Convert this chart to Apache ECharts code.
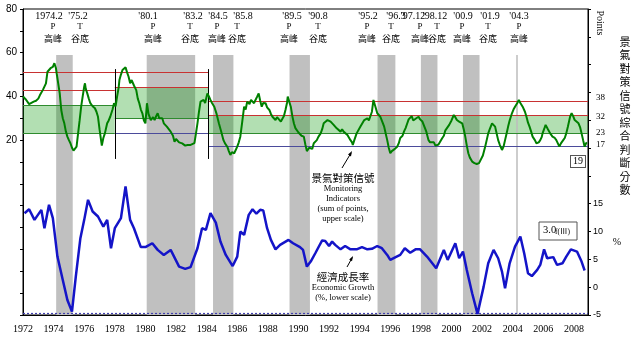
<!DOCTYPE html>
<html><head><meta charset="utf-8">
<script src="https://cdn.jsdelivr.net/npm/echarts@6/dist/echarts.min.js"></script>
<style>html,body{margin:0;padding:0;background:#fff}#c{width:640px;height:346px}</style>
</head><body><div id="c"></div><script>
// ---- DATA ----
const monYears = [1972.0,1972.2,1972.4,1972.5,1972.7,1972.85,1973.0,1973.1,1973.2,1973.3,1973.4,1973.5,1973.6,1973.7,1973.8,1973.95,1974.05,1974.15,1974.2,1974.3,1974.4,1974.5,1974.6,1974.7,1974.8,1974.9,1975.0,1975.1,1975.2,1975.3,1975.4,1975.5,1975.6,1975.7,1975.8,1975.9,1976.0,1976.05,1976.1,1976.2,1976.3,1976.4,1976.55,1976.7,1976.8,1976.9,1977.0,1977.1,1977.15,1977.25,1977.35,1977.5,1977.6,1977.7,1977.85,1977.95,1978.05,1978.15,1978.25,1978.3,1978.4,1978.5,1978.6,1978.7,1978.8,1978.9,1979.0,1979.1,1979.25,1979.4,1979.5,1979.6,1979.7,1979.8,1979.9,1980.0,1980.1,1980.2,1980.35,1980.5,1980.6,1980.7,1980.8,1980.9,1981.0,1981.1,1981.2,1981.3,1981.4,1981.5,1981.65,1981.8,1981.9,1982.0,1982.1,1982.2,1982.3,1982.4,1982.5,1982.6,1982.75,1982.85,1982.95,1983.05,1983.2,1983.3,1983.4,1983.5,1983.6,1983.7,1983.8,1983.9,1984.0,1984.05,1984.15,1984.25,1984.35,1984.5,1984.65,1984.8,1984.95,1985.1,1985.2,1985.35,1985.45,1985.55,1985.65,1985.8,1985.9,1986.0,1986.1,1986.2,1986.3,1986.45,1986.55,1986.65,1986.8,1986.9,1987.0,1987.1,1987.2,1987.3,1987.4,1987.5,1987.6,1987.7,1987.85,1987.95,1988.1,1988.2,1988.3,1988.4,1988.5,1988.6,1988.7,1988.85,1988.95,1989.05,1989.15,1989.25,1989.3,1989.4,1989.5,1989.6,1989.7,1989.8,1989.9,1990.0,1990.1,1990.2,1990.35,1990.45,1990.55,1990.6,1990.7,1990.8,1990.9,1991.0,1991.1,1991.2,1991.3,1991.45,1991.55,1991.65,1991.75,1991.9,1992.0,1992.1,1992.2,1992.3,1992.4,1992.5,1992.6,1992.75,1992.85,1992.95,1993.05,1993.2,1993.3,1993.4,1993.5,1993.55,1993.65,1993.8,1993.9,1994.05,1994.15,1994.3,1994.4,1994.5,1994.6,1994.7,1994.8,1994.9,1995.0,1995.15,1995.25,1995.35,1995.5,1995.6,1995.7,1995.8,1995.9,1996.0,1996.1,1996.2,1996.3,1996.45,1996.55,1996.65,1996.8,1996.9,1997.0,1997.1,1997.2,1997.3,1997.4,1997.5,1997.6,1997.7,1997.85,1997.95,1998.1,1998.2,1998.35,1998.5,1998.6,1998.7,1998.85,1998.95,1999.05,1999.15,1999.25,1999.4,1999.5,1999.6,1999.7,1999.85,2000.0,2000.15,2000.25,2000.35,2000.5,2000.6,2000.7,2000.8,2000.9,2001.0,2001.1,2001.2,2001.35,2001.5,2001.65,2001.8,2001.9,2002.05,2002.2,2002.3,2002.4,2002.5,2002.65,2002.75,2002.85,2002.95,2003.05,2003.15,2003.3,2003.4,2003.5,2003.6,2003.7,2003.8,2003.95,2004.05,2004.15,2004.3,2004.4,2004.5,2004.65,2004.8,2004.9,2005.0,2005.1,2005.2,2005.3,2005.45,2005.55,2005.7,2005.8,2005.9,2005.95,2006.05,2006.15,2006.3,2006.45,2006.55,2006.6,2006.75,2006.85,2006.95,2007.05,2007.15,2007.3,2007.4,2007.5,2007.6,2007.75,2007.85,2007.95,2008.05,2008.15,2008.3,2008.4,2008.5,2008.6,2008.7,2008.8,2008.85];
const monValues = [40,38.5,36.5,36,37.6,38,39,40.5,41.4,43,44.5,46,51.3,52,52.9,53.5,55.2,53,50.6,46,41.4,33.8,30,27.7,24,21.6,20,18.6,16.5,15.2,15.8,17,23.1,29,35.3,40,44.5,46,43.5,41.4,39,36.9,35.5,34.6,33,30.7,25,20,17.5,21,23.1,27.7,29,30.7,34,36.9,35.5,40,44,47.5,50,52.1,53,53.3,51,49,46,47.5,45,42.9,39,36.9,34,32.3,29,27.7,36.9,32,29.2,30.5,29.2,31,32.3,30,29.2,30,27.7,28,26.2,27,23.9,22,19.3,20.5,20,19,19.3,18.5,18.6,17.5,17.8,17,17.8,17,18.6,23,27.7,33,37.6,38,38.4,37,40,41.4,40,38.4,37,35.3,32,27.7,24,20,18.5,17,15,13.2,14.5,14,15.5,17,19,21.6,27,35.3,34,37.6,36.5,38.4,37.5,36.9,38.5,39.9,41.4,38,35.3,37,36.9,35,33.8,32,30.7,31.5,29.2,30.5,30,28.5,29.2,31,33.8,37,39.9,37.5,35.3,31,27.7,25.5,24.7,23.5,23.1,22,21.6,18,15,14.7,16.5,17,16,18.6,18,20,21.5,23.1,25,27.7,27,29.2,29.5,28.5,28,27,26.5,25.4,26,23.9,25,23.9,24.5,22.4,21.5,20,19,17.8,20,23.1,22.5,26.2,27,29.2,28.5,30,29,29.2,33,38.4,36,32.3,31.5,30.7,28,26.2,23,20,16.5,14,15,15.5,16,17,18.5,21,22,24,25.5,27.5,29.5,30,31,29,29.2,30,30.7,29.5,28.5,27.7,24,20,19,18.6,19,17.5,17,18,18.6,21,22,24.5,24.7,27,29,31.5,30.5,29.2,28.5,28,27.7,25,21.6,17.5,14,12,10.2,9.5,9.1,9.5,10.2,13,17,20,23.1,25,27.7,27,26.2,23,20,18,15.5,17,20,23,26.2,29,32.3,34,35.3,37,38.4,37,35.3,33,30.7,28,26.2,24,21.6,20,18.6,19,20,21.5,23.1,25,27,25,23.1,22.5,21.6,21,20,18.5,17,18.5,20,21,23.1,26,30.7,32.3,31,29.2,29.5,27.7,26,23.1,20,17,18.6,19];
const growthYears = [1972.1,1972.4,1972.75,1973.2,1973.4,1973.7,1973.95,1974.25,1974.6,1974.9,1975.2,1975.45,1975.75,1976.0,1976.25,1976.55,1976.9,1977.25,1977.5,1977.75,1978.0,1978.4,1978.7,1979.0,1979.25,1979.7,1980.0,1980.45,1980.8,1981.2,1981.65,1982.2,1982.6,1982.95,1983.4,1983.7,1983.95,1984.25,1984.6,1984.9,1985.25,1985.7,1986.0,1986.2,1986.45,1986.75,1987.0,1987.25,1987.5,1987.7,1987.95,1988.2,1988.5,1988.8,1989.35,1989.65,1990.1,1990.3,1990.55,1990.8,1991.1,1991.35,1991.55,1991.75,1992.0,1992.2,1992.4,1992.75,1993.05,1993.4,1993.8,1994.15,1994.5,1994.8,1995.15,1995.45,1995.8,1996.0,1996.35,1996.65,1996.95,1997.3,1997.65,1997.95,1998.4,1999.0,1999.5,1999.75,2000.25,2000.5,2000.75,2001.0,2001.35,2001.7,2002.1,2002.4,2002.75,2003.05,2003.3,2003.5,2003.8,2004.15,2004.5,2004.75,2005.0,2005.25,2005.6,2005.8,2006.05,2006.25,2006.65,2006.9,2007.25,2007.5,2007.8,2008.2,2008.5,2008.7];
const growthValues = [13.3,14,12.1,13.9,10.6,14.8,12.4,5.5,1.3,-2.3,-4.4,1.9,8.8,12.1,15.7,13.6,12.7,10.9,12.1,7,10.6,12.4,18.1,12.1,10.6,7.2,7.2,7.9,6.7,5.8,6.7,3.7,3.3,3.6,7,10.6,10.3,13.3,11.6,8.2,5.8,3.8,5.5,10,9.4,13,14,13.2,13.9,13.8,10.6,8.5,6.8,7.6,8.5,7.9,7.2,6.7,3.7,4.6,6.1,7.4,8.4,8.3,7.4,8.2,7.6,6.8,7.4,6.8,6.8,7.2,6.8,6.9,7.4,7,5.8,4.9,5.4,5.8,7,6.2,6.8,6.8,5.5,3.4,6.7,4.9,7.9,5.2,6.4,3.1,-1.1,-4.8,0.1,4.3,6.7,5.2,2.8,-0.2,4.3,7.3,9.1,6.1,2.5,2,3.1,4,6.8,5.2,5.4,4,4.3,5.5,6.8,6.4,4.6,3.0];
// business-cycle turning points
const cycleLabels = ["1974.2","'75.2","'80.1","'83.2","'84.5","'85.8","'89.5","'90.8","'95.2","'96.3","'97.12","'98.12","'00.9","'01.9","'04.3"];
const cycleTypes  = ["P","T","P","T","P","T","P","T","P","T","P","T","P","T","P"];
const cycleYears  = [1974,1975,1980,1983,1984,1985,1989,1990,1995,1996,1997,1998,2000,2001,2004];
const cycleMonths = [2,2,1,2,5,8,5,8,2,3,12,12,9,9,3];
const typeNames = {P:"高峰", T:"谷底"};
// signal thresholds (points): [fromYear, toYear, value]
const thresholdSegs = [[1972,1984.09,51],[1972,1978,43],[1978,1984.09,44],[1972,1978,36],[1978,1984.09,30],[1972,1978,23],[1978,1984.09,23],[1984.09,2008.92,38],[1984.09,2008.92,31.5],[1984.09,2008.92,23],[1984.09,2008.92,17]];
const thresholdKinds = ["r","r","r","g","g","g","b","r","r","g","b"];
const greenBands = [[1972,1978,23,36],[1978,1984.09,30,44],[1984.09,2008.92,23,31.5]];
const regimeBreaks = [1978,1984.09];
const thresholdTicks = ["38","32","23","17"];
const lastMon = "19";
const lastGrowth = "3.0";
const lastGrowthNote = "f(Ⅲ)";
const rightTitle = "景氣對策信號綜合判斷分數";

// ---- CHART ----
const chart = echarts.init(document.getElementById('c'), null, {renderer:'canvas'});
const X0 = 1972, X1 = 2008.92;
const toDec = (y,m)=> y + m/12;
const recessions = [];
for (let i=0;i<cycleTypes.length-1;i++){
  if (cycleTypes[i]==='P' && cycleTypes[i+1]==='T'){
    recessions.push([toDec(cycleYears[i],cycleMonths[i]), toDec(cycleYears[i+1],cycleMonths[i+1]+1)]);
  }
}
const lastPeak = cycleYears[14] + (cycleMonths[14]+0.5)/12;
const kindColor = {r:'#c83232', g:'#2e8b2e', b:'#4b4b9b'};

const serif = '"Liberation Serif","Noto Sans CJK TC",serif';
const cjk = '"Noto Sans CJK TC",sans-serif';

const graphics = [];
const dateX = [49,78,148,193,218,243,292,318,368,396,413,435,463,490,519];
const nameX = [53,80,153,190,217,237,289,318,367,391,420,437,462,488,519];
cycleLabels.forEach((t,i)=>{
  graphics.push({type:'text', style:{text:t, x:dateX[i], y:16, font:'10px '+serif, fill:'#000', textAlign:'center', textVerticalAlign:'middle'}});
  graphics.push({type:'text', style:{text:cycleTypes[i], x:nameX[i], y:27, font:'9px '+serif, fill:'#000', textAlign:'center', textVerticalAlign:'middle'}});
  graphics.push({type:'text', style:{text:typeNames[cycleTypes[i]], x:nameX[i], y:39, font:'9px '+cjk, fill:'#000', textAlign:'center', textVerticalAlign:'middle'}});
});
const thrY = [98,117,133,145];
thresholdTicks.forEach((t,i)=>{
  graphics.push({type:'text', style:{text:t, x:596, y:thrY[i], font:'9px '+serif, fill:'#000', textAlign:'left', textVerticalAlign:'middle'}});
});
graphics.push({type:'text', style:{text:rightTitle.split('').join('\n'), x:625, y:35, font:'11px '+cjk, lineHeight:13.5, fill:'#000', textAlign:'center', textVerticalAlign:'top'}});
graphics.push({type:'text', rotation:-Math.PI/2, x:600, y:23, style:{text:'Points', x:0, y:0, font:'10px '+serif, fill:'#000', textAlign:'center', textVerticalAlign:'middle'}});
graphics.push({type:'text', style:{text:'%', x:617, y:242, font:'10px '+serif, fill:'#000', textAlign:'center', textVerticalAlign:'middle'}});
const annoA = ['景氣對策信號','Monitoring','Indicators','(sum of points,','upper scale)'];
const annoAY = [178,189,199,209,219];
annoA.forEach((t,i)=>graphics.push({type:'text', style:{text:t, x:343, y:annoAY[i], font:(i===0?'10.5px '+cjk:'8.5px '+serif), fill:'#000', textAlign:'center', textVerticalAlign:'middle'}}));
const annoB = ['經濟成長率','Economic Growth','(%, lower scale)'];
const annoBY = [277,288,298];
annoB.forEach((t,i)=>graphics.push({type:'text', style:{text:t, x:343, y:annoBY[i], font:(i===0?'10.5px '+cjk:'8.5px '+serif), fill:'#000', textAlign:'center', textVerticalAlign:'middle'}}));
graphics.push({type:'line', shape:{x1:342,y1:168,x2:351,y2:153}, style:{stroke:'#000', lineWidth:1}});
graphics.push({type:'polygon', shape:{points:[[352,151],[351,156.5],[348,154.6]]}, style:{fill:'#000'}});
graphics.push({type:'line', shape:{x1:347,y1:267,x2:352.3,y2:257.5}, style:{stroke:'#000', lineWidth:1}});
graphics.push({type:'polygon', shape:{points:[[353,256],[352,261.3],[349.2,259.6]]}, style:{fill:'#000'}});
graphics.push({type:'text', style:{text:lastMon, x:578, y:161.5, font:'10px '+serif, fill:'#000', textAlign:'center', textVerticalAlign:'middle', backgroundColor:'#fff', borderColor:'#555', borderWidth:1, padding:[1,2,0,2]}});
graphics.push({type:'rect', shape:{x:539, y:222, width:38, height:18}, style:{fill:'#fff', stroke:'#555', lineWidth:1}});
graphics.push({type:'text', style:{text:lastGrowth, x:543, y:230, font:'10.5px '+serif, fill:'#000', textAlign:'left', textVerticalAlign:'middle'}});
graphics.push({type:'text', style:{text:lastGrowthNote, x:555, y:232.5, font:'7.5px '+serif, fill:'#000', textAlign:'left', textVerticalAlign:'middle'}});

const seg = (x0,x1,v,color)=>[{coord:[x0,v], lineStyle:{color:color,width:1,type:'solid'}},{coord:[x1,v]}];

const option = {
  animation:false,
  backgroundColor:'#fff',
  grid:{left:23, right:52, top:9, bottom:31, show:true, borderColor:'#000', borderWidth:1, backgroundColor:'transparent'},
  xAxis:{type:'value', min:X0, max:X1, interval:2,
    axisLine:{show:true, onZero:false, lineStyle:{color:'#000', width:1}}, axisTick:{show:false},
    axisLabel:{formatter:v=> (Math.abs(v-Math.round(v))<1e-6 && Math.round(v)%2===0)? String(Math.round(v)):'', showMaxLabel:false, fontFamily:'Liberation Serif', fontSize:10, color:'#000', margin:9},
    splitLine:{show:false}},
  yAxis:[
    {type:'value', min:-60, max:80, interval:10, position:'left',
     axisLine:{show:true, onZero:false, lineStyle:{color:'#000'}}, axisTick:{show:true, length:3, lineStyle:{color:'#000'}},
     axisLabel:{formatter:v=> (v>=20 && v%20===0)? String(v):'', fontFamily:'Liberation Sans', fontSize:10, color:'#000', margin:6},
     splitLine:{show:false}},
    {type:'value', min:-5, max:50, interval:5, position:'right',
     axisLine:{show:true, onZero:false, lineStyle:{color:'#000'}}, axisTick:{show:true, length:3, lineStyle:{color:'#000'}},
     axisLabel:{formatter:v=> (v<=15)? String(v):'', fontFamily:'Liberation Sans', fontSize:9, color:'#000', margin:5},
     splitLine:{show:false}}
  ],
  series:[
    {name:'recession', type:'line', data:[], yAxisIndex:0, z:1, silent:true,
     markArea:{silent:true, itemStyle:{color:'#c0c0c0'}, data: recessions.map(r=>[{xAxis:r[0], yAxis:-60},{xAxis:r[1], yAxis:59}])},
     markLine:{silent:true, symbol:['none','none'], label:{show:false}, data:[[{coord:[lastPeak,-60], lineStyle:{color:'#bdbdbd', width:1.5, type:'solid'}},{coord:[lastPeak,59]}]]}},
    {name:'band', type:'line', data:[], yAxisIndex:0, z:2, silent:true,
     markArea:{silent:true, itemStyle:{color:'rgba(0,150,0,0.3)'}, data: greenBands.map(b=>[{xAxis:b[0], yAxis:b[2]},{xAxis:b[1], yAxis:b[3]}])}},
    {name:'thresholds', type:'line', data:[], yAxisIndex:0, z:3, silent:true,
     markLine:{silent:true, symbol:['none','none'], label:{show:false},
       data: thresholdSegs.map((s,i)=>seg(s[0],s[1],s[2],kindColor[thresholdKinds[i]]))
         .concat(regimeBreaks.map(x=>[{coord:[x,11.4], lineStyle:{color:'#000',width:1,type:'solid'}},{coord:[x,52.5]}]))}},
    {name:'景氣對策信號', type:'line', yAxisIndex:0, z:5, showSymbol:false, symbol:'none',
     data: monYears.map((x,i)=>[x, monValues[i]]), lineStyle:{color:'#008000', width:2}, itemStyle:{color:'#008000'}},
    {name:'經濟成長率', type:'line', yAxisIndex:1, z:5, showSymbol:false, symbol:'none',
     data: growthYears.map((x,i)=>[x, growthValues[i]]), lineStyle:{color:'#1414c8', width:2.5}, itemStyle:{color:'#1414c8'},
     markLine:{silent:true, symbol:['none','none'], label:{show:false},
       data:[[{coord:[X0,-4.75], lineStyle:{color:'#4040b0', width:1.2, type:[2,2]}},{coord:[X1,-4.75]}]]}}
  ],
  graphic: graphics
};
chart.setOption(option);
</script></body></html>
